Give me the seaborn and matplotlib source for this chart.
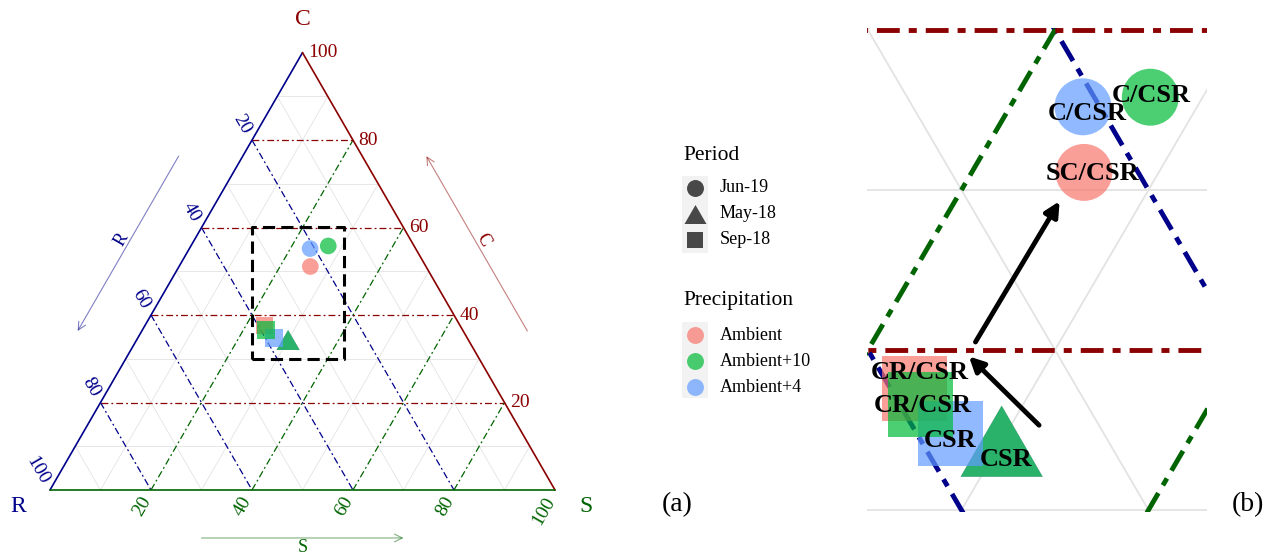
import numpy as np
import pandas as pd
import matplotlib
matplotlib.use('Agg')
import matplotlib.pyplot as plt
from matplotlib.path import Path
import seaborn as sns

# CSR strategy (%)
period = ['May-18', 'May-18', 'May-18', 'Sep-18', 'Sep-18', 'Sep-18', 'Jun-19', 'Jun-19', 'Jun-19']
precip = ['Ambient', 'Ambient+4', 'Ambient+10'] * 3
c_val = [34.3, 34.3, 34.3, 37.6, 34.8, 36.6, 51.1, 55.2, 55.8]
s_val = [30.0, 30.0, 30.0, 23.7, 27.0, 24.5, 26.0, 23.9, 27.2]
csr_class = ['', '', 'CSR', 'CR/CSR', 'CSR', 'CR/CSR', 'SC/CSR', 'C/CSR', 'C/CSR']

period_levels = ['Jun-19', 'May-18', 'Sep-18']
precip_levels = ['Ambient', 'Ambient+10', 'Ambient+4']
ticks = [20, 40, 60, 80, 100]

# arrows in panel (b), (C, S) from -> to
shift_arrows = [((35.3, 31.5), (39.6, 25.6)), ((40.5, 25.5), (49.3, 25.6))]
# zoom window (cartesian x, C)
zoom_x = (39.95, 58.13)
zoom_c = (29.875, 60.125)

H = np.sqrt(3) / 2


def to_xy(c, s):
    return np.asarray(s) + np.asarray(c) / 2, np.asarray(c) * H


df = pd.DataFrame({'Period': period, 'Precipitation': precip, 'C': c_val, 'S': s_val, 'label': csr_class})
df['R'] = 100 - df['C'] - df['S']
df['x'], df['y'] = to_xy(df['C'], df['S'])

sns.set_style('white')
plt.rcParams['font.family'] = ['Liberation Serif', 'DejaVu Serif']
plt.rcParams['text.color'] = 'black'

pal = {'Ambient': '#F8766D', 'Ambient+10': '#00BA38', 'Ambient+4': '#619CFF'}
tri = Path([(0, 0.866), (-1, -0.866), (1, -0.866), (0, 0.866)])
mk = {'Jun-19': 'o', 'May-18': tri, 'Sep-18': 's'}
col = {'C': '#8B0000', 'R': '#00008B', 'S': '#006400'}


def draw_grid(ax, lw_minor, lw_major, dash):
    for v in range(10, 100, 10):
        segs = {'C': ((v, 0), (v, 100 - v)),
                'R': ((100 - v, 0), (0, 100 - v)),
                'S': ((0, v), (100 - v, v))}
        for key, ((c0, s0), (c1, s1)) in segs.items():
            x0, y0 = to_xy(c0, s0)
            x1, y1 = to_xy(c1, s1)
            if v % 20 == 0:
                ax.plot([x0, x1], [y0, y1], color=col[key], lw=lw_major, dashes=dash, zorder=2)
            else:
                ax.plot([x0, x1], [y0, y1], color='#E3E3E3', lw=lw_minor, zorder=1)


W, HP = 1279, 554
fig = plt.figure(figsize=(12.79, 5.54), dpi=100)

# ---- panel (a): full ternary
ax = fig.add_axes([0, 0, 640 / W, 1])
ax.set_xlim(-50 / 5.05, 590 / 5.05)
ax.set_ylim(-64 / 5.05, 490 / 5.05)
ax.axis('off')

draw_grid(ax, 0.6, 0.9, (5.5, 2.4, 1.5, 2.4))

# triangle edges
for key, (a, b) in {'R': ((0, 0), (100, 0)), 'C': ((0, 100), (100, 0)), 'S': ((0, 0), (0, 100))}.items():
    xa, ya = to_xy(*a)
    xb, yb = to_xy(*b)
    ax.plot([xa, xb], [ya, yb], color=col[key], lw=1.2, zorder=3)

sns.scatterplot(data=df, x='x', y='y', hue='Precipitation', style='Period', size='Period',
                palette=pal, markers=mk, sizes={'Jun-19': 144, 'Sep-18': 160, 'May-18': 275},
                alpha=0.7, linewidth=0, edgecolor='none', legend=False, ax=ax, zorder=4)

# zoom box
bx0, by0 = zoom_x[0], zoom_c[0] * H
bx1, by1 = zoom_x[1], zoom_c[1] * H
ax.plot([bx0, bx1, bx1, bx0, bx0], [by0, by0, by1, by1, by0], color='black', lw=2.2,
        dashes=(4, 2), zorder=5)

# tick labels
for v in ticks:
    ax.annotate(str(v), to_xy(v, 100 - v), xytext=(4, 0), textcoords='offset points',
                ha='left', va='center', color=col['C'], fontsize=14)
    ax.annotate(str(v), to_xy(100 - v, 0), xytext=(-3.6, 5), textcoords='offset points',
                ha='right', va='center', rotation=-60, rotation_mode='anchor',
                color=col['R'], fontsize=14)
    ax.annotate(str(v), to_xy(0, v), xytext=(-2.9, -5.8), textcoords='offset points',
                ha='right', va='center', rotation=60, rotation_mode='anchor',
                color=col['S'], fontsize=14)

# vertex titles
ax.annotate('C', to_xy(100, 0), xytext=(0, 24), textcoords='offset points', ha='center',
            va='center', color=col['C'], fontsize=17)
ax.annotate('R', to_xy(0, 0), xytext=(-23, -12), textcoords='offset points', ha='center',
            va='center', color=col['R'], fontsize=17)
ax.annotate('S', to_xy(0, 100), xytext=(22, -12), textcoords='offset points', ha='center',
            va='center', color=col['S'], fontsize=17)

# direction arrows along the edges
edges = {'R': (np.array([0.0, 0.0]), np.array([0.5, H]), np.array([-H, 0.5]), 0.7, 0.3, 11, 12.5, 60),
         'C': (np.array([100.0, 0.0]), np.array([-0.5, H]), np.array([H, 0.5]), 0.3, 0.7, 11, 12.5, -60),
         'S': (np.array([0.0, 0.0]), np.array([1.0, 0.0]), np.array([0.0, -1.0]), 0.3, 0.7, 9.5, 11.4, 0)}
for key, (p0, u, n, t0, t1, off, loff, rot) in edges.items():
    start = p0 + 100 * t0 * u + off * n
    end = p0 + 100 * t1 * u + off * n
    ax.annotate('', xy=end, xytext=start,
                arrowprops=dict(arrowstyle='->', color=col[key], alpha=0.5, lw=0.8,
                                mutation_scale=14, shrinkA=0, shrinkB=0))
    lp = p0 + 50 * u + loff * n
    ax.text(lp[0], lp[1], key, rotation=rot, ha='center', va='center', color=col[key], fontsize=13)

# ---- panel (b): zoomed view
axb = fig.add_axes([867 / W, 42 / HP, 340 / W, 484 / HP])
axb.set_xlim(*zoom_x)
axb.set_ylim(zoom_c[0] * H, zoom_c[1] * H)
axb.axis('off')
draw_grid(axb, 1.3, 3.5, (4.7, 1.85, 1.65, 1.85))

sns.scatterplot(data=df, x='x', y='y', hue='Precipitation', style='Period', size='Period',
                palette=pal, markers=mk, sizes={'Jun-19': 1681, 'Sep-18': 2190, 'May-18': 3486},
                alpha=0.7, linewidth=0, edgecolor='none', legend=False, ax=axb, zorder=4)

label_offsets = [(0, 0), (0, 0), (3, -13.5), (3.5, 11.5), (0, -5), (2, -0.5), (6, -0.5), (3, -5), (1, 1)]
for row, (dx, dy) in zip(df.itertuples(), label_offsets):
    if row.label:
        axb.annotate(row.label, (row.x, row.y), xytext=(dx, dy), textcoords='offset points',
                     ha='center', va='center', fontsize=19, fontweight='bold', color='black', zorder=6)

for (c0, s0), (c1, s1) in shift_arrows:
    axb.annotate('', xy=to_xy(c1, s1), xytext=to_xy(c0, s0),
                 arrowprops=dict(arrowstyle='-|>', color='black', lw=3.5, mutation_scale=22,
                                 shrinkA=0, shrinkB=0), zorder=7)

# ---- legend and panel tags (figure pixel space)
lg = fig.add_axes([0, 0, 1, 1])
lg.set_xlim(0, W)
lg.set_ylim(HP, 0)
lg.axis('off')
lg.patch.set_alpha(0)

lg.text(683, 155, 'Period', ha='left', va='center', fontsize=15.5)
lg.add_patch(plt.Rectangle((682, 176), 26, 77, color='#F2F2F2', lw=0))
leg_sizes = {'Jun-19': 12.2, 'May-18': 15.8, 'Sep-18': 12.2}
for i, p in enumerate(period_levels):
    yy = 188 + 26 * i
    lg.plot(695, yy, marker=mk[p], ms=leg_sizes[p], color='black', alpha=0.7, mew=0, ls='none')
    lg.text(720, yy, p, ha='left', va='center', fontsize=13)

lg.text(683, 300, 'Precipitation', ha='left', va='center', fontsize=15.5)
lg.add_patch(plt.Rectangle((682, 322), 26, 76, color='#F2F2F2', lw=0))
for i, p in enumerate(precip_levels):
    yy = 335 + 26 * i
    lg.plot(695, yy, marker='o', ms=12.2, color=pal[p], alpha=0.7, mew=0, ls='none')
    lg.text(720, yy, p, ha='left', va='center', fontsize=13)

lg.text(677, 505, '(a)', ha='center', va='center', fontsize=20)
lg.text(1248, 505, '(b)', ha='center', va='center', fontsize=20)

fig.savefig('out.png', dpi=100)
